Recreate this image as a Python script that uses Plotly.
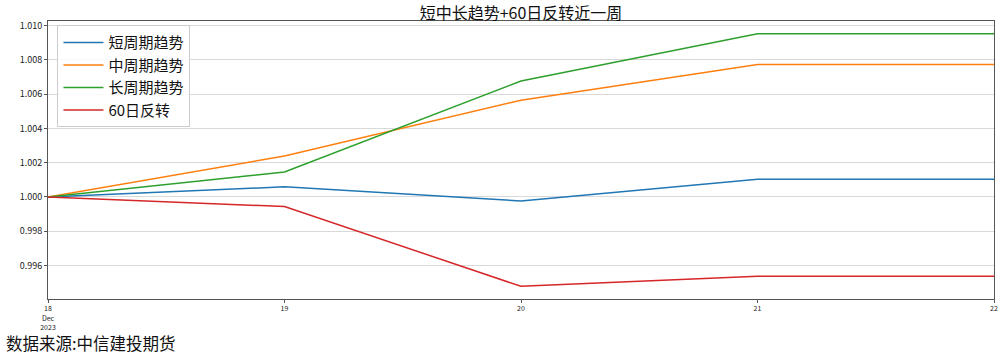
import plotly.graph_objects as go

dates = ["2023-12-18", "2023-12-19", "2023-12-20", "2023-12-21", "2023-12-22"]
tick_labels = ["18<br>Dec<br>2023", "19", "20", "21", "22"]

series_names = ["短周期趋势", "中周期趋势", "长周期趋势", "60日反转"]
short_trend = [1.0000, 1.00059, 0.99977, 1.00103, 1.00103]
mid_trend = [1.0000, 1.00239, 1.00564, 1.00773, 1.00773]
long_trend = [1.0000, 1.00146, 1.00676, 1.00952, 1.00952]
reversal_60 = [1.0000, 0.99944, 0.99479, 0.99537, 0.99537]

colors = ["#1f77b4", "#ff7f0e", "#2ca02c", "#d62728"]
yticks = [0.996, 0.998, 1.000, 1.002, 1.004, 1.006, 1.008, 1.010]

FONT = "Noto Sans CJK SC, DejaVu Sans, sans-serif"

W, H = 1003, 354
L, R, T, B = 48, 5, 21, 55
plot_h = H - T - B

fig = go.Figure()
for name, vals, c in zip(series_names, [short_trend, mid_trend, long_trend, reversal_60], colors):
    fig.add_trace(go.Scatter(x=dates, y=vals, mode="lines", name=name,
                             line=dict(color=c, width=1.5)))

fig.update_layout(
    width=W, height=H,
    margin=dict(l=L, r=R, t=T, b=B),
    paper_bgcolor="white", plot_bgcolor="white",
    font=dict(family=FONT, color="#222"),
    title=dict(text="短中长趋势+60日反转近一周", x=0.5, xref="paper", xanchor="center",
               y=1 - 13 / H, yanchor="middle", font=dict(size=16, color="#111", family=FONT)),
    legend=dict(x=0.01, y=0.985, xanchor="left", yanchor="top",
                bgcolor="rgba(255,255,255,0.85)", bordercolor="#cccccc", borderwidth=1,
                font=dict(size=15, family=FONT, color="#111"), tracegroupgap=0,
                itemwidth=40),
    showlegend=True,
)

fig.update_xaxes(
    type="date", range=[dates[0], dates[-1]],
    tickvals=dates, ticktext=tick_labels,
    tickfont=dict(size=7, color="#222"),
    ticks="outside", ticklen=3, tickcolor="#555",
    showgrid=False, zeroline=False,
    showline=True, linecolor="#555", linewidth=1, mirror=True,
)
fig.update_yaxes(
    range=[0.99405, 1.01026],
    tickvals=yticks, tickformat=".3f",
    tickfont=dict(size=9, color="#222"),
    ticks="outside", ticklen=3, tickcolor="#555",
    showgrid=True, gridcolor="#d9d9d9", gridwidth=1, zeroline=False,
    showline=True, linecolor="#555", linewidth=1, mirror=True,
)

fig.add_annotation(text="数据来源:中信建投期货", xref="paper", yref="paper",
                   x=(5 - L) / (W - L - R), y=(H - B - 342.5) / plot_h, xanchor="left", yanchor="middle",
                   showarrow=False, borderpad=0,
                   font=dict(size=16.5, family=FONT, color="#111"))

fig.write_html("out.html")
